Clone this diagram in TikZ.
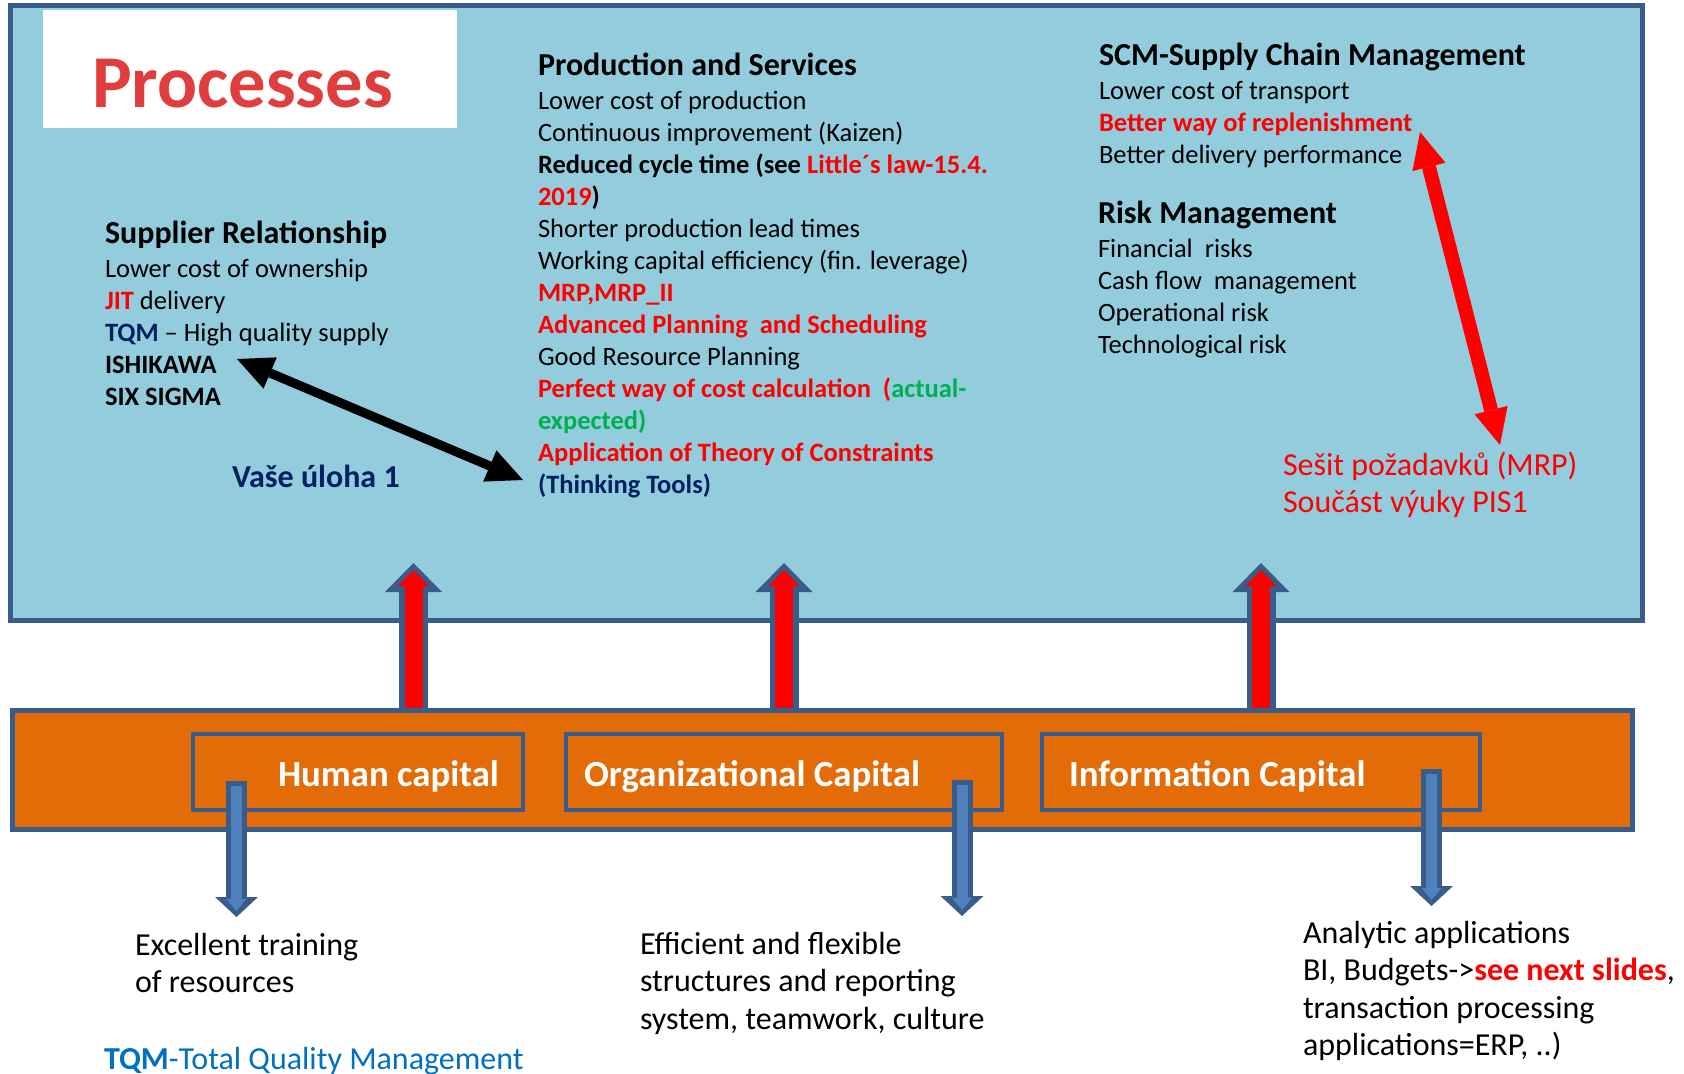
\documentclass[tikz,border=0pt]{standalone}
\usepackage{fontspec}
\setmainfont{Carlito}
\usetikzlibrary{arrows.meta}

\definecolor{procblue}{RGB}{147,205,221}
\definecolor{edgeblue}{RGB}{56,93,138}
\definecolor{resorange}{RGB}{227,108,9}
\definecolor{arrowblue}{RGB}{79,129,189}
\definecolor{navy}{RGB}{0,32,96}
\definecolor{tqmblue}{RGB}{0,112,192}
\definecolor{okgreen}{RGB}{0,176,80}
\definecolor{procred}{RGB}{224,62,62}

\newcommand{\blocktitle}[1]{{\fontsize{16}{16}\selectfont\bfseries #1}}

\begin{document}
\begin{tikzpicture}[x=0.5pt,y=-0.5pt]
\tikzset{
  every node/.style={inner sep=0pt, outer sep=0pt},
  bigbox/.style={draw=edgeblue, line width=2.5pt},
  capbox/.style={draw=edgeblue, line width=2pt, minimum height=38pt},
  captext/.style={font=\fontsize{18.4}{20}\selectfont\bfseries, text=white, anchor=base west},
  body/.style={font=\fontsize{13.25}{16}\selectfont, align=left, anchor=north west},
  lower/.style={font=\fontsize{16}{18.75}\selectfont, align=left, anchor=north west},
  upout/.style={draw=edgeblue, line width=14.5pt, -{Triangle[length=14.5pt,width=28.5pt,line width=0pt]}},
  upin/.style={draw=red, line width=9pt, shorten >=3.5pt, shorten <=1.5pt, -{Triangle[length=8pt,width=15.5pt,line width=0pt]}},
  downout/.style={draw=edgeblue, line width=10.5pt, -{Triangle[length=10pt,width=21.5pt,line width=0pt]}},
  downin/.style={draw=arrowblue, line width=5.5pt, shorten >=3pt, shorten <=2.5pt, -{Triangle[length=6pt,width=10pt,line width=0pt]}},
  linkarrow/.style={line width=#1, arrows={Triangle[length=18pt,width=17pt,line width=0pt]-Triangle[length=18pt,width=17pt,line width=0pt]}}
}
\useasboundingbox (0,0) rectangle (1684,1074);
\fill[white] (0,0) rectangle (1684,1074);

% boxes
\node[bigbox, fill=procblue, minimum width=816pt, minimum height=307.5pt] (proc) at (826.5,313) {};
\node[fill=white, minimum width=207pt, minimum height=59pt] (title) at (250,69) {};
\node[font=\fontsize{37.3}{40}\selectfont\bfseries, text=procred, anchor=base west] (proctext) at (92,108) {Processes};
\node[bigbox, fill=resorange, minimum width=810.25pt, minimum height=59.5pt] (res) at (822.25,770) {};
\node[capbox, minimum width=165pt] (hum) at (358,771.5) {};
\node[capbox, minimum width=218pt] (org) at (784,771.5) {};
\node[capbox, minimum width=219pt] (inf) at (1261,771.5) {};
\node[captext] (humtext) at (278,786) {Human capital};
\node[captext] (orgtext) at (584,786) {Organizational Capital};
\node[captext] (inftext) at (1069,786) {Information Capital};

% processes texts
\node[body] (supp) at (105,221) {\blocktitle{Supplier Relationship}\\[1pt]
Lower cost of ownership\\
{\color{red}\bfseries JIT} delivery\\
{\color{navy}\bfseries TQM} -- High quality supply\\
\textbf{ISHIKAWA}\\
\textbf{SIX SIGMA}};
\node[body] (prod) at (538,53) {\blocktitle{Production and Services}\\[1pt]
Lower cost of production\\
Continuous improvement (Kaizen)\\
\textbf{Reduced cycle time (see {\color{red}Little´s law-15.4.}}\\
\textbf{{\color{red}2019})}\\
Shorter production lead times\\
Working capital efficiency (fin. leverage)\\
{\color{red}\bfseries MRP,MRP\_II}\\
{\color{red}\bfseries Advanced Planning\ \ and Scheduling}\\
Good Resource Planning\\
{\color{red}\bfseries Perfect way of cost calculation\ \ (}{\color{okgreen}\bfseries actual-}\\
{\color{okgreen}\bfseries expected)}\\
{\color{red}\bfseries Application of Theory of Constraints}\\
{\color{navy}\bfseries (Thinking Tools)}};
\node[body] (scm) at (1099,43) {\blocktitle{SCM-Supply Chain Management}\\[1pt]
Lower cost of transport\\
{\color{red}\bfseries Better way of replenishment}\\
Better delivery performance};
\node[body] (risk) at (1098,201) {\blocktitle{Risk Management}\\[1pt]
Financial\ \ risks\\
Cash flow\ \ management\\
Operational risk\\
Technological risk};
\node[lower, text=red] (mrpbook) at (1283,452) {Sešit požadavků (MRP)\\Součást výuky PIS1};
\node[font=\fontsize{16}{16}\selectfont\bfseries, text=navy, anchor=base west] (task) at (232,487.5) {Vaše úloha 1};

% lower texts
\node[lower] (train) at (135,933) {Excellent training\\of resources};
\node[lower] (struct) at (640,932) {Efficient and flexible\\structures and reporting\\system, teamwork, culture};
\node[lower] (apps) at (1303,921) {Analytic applications\\BI, Budgets->{\color{red}\bfseries see next slides},\\transaction processing\\applications=ERP, ..)};
\node[font=\fontsize{16}{16}\selectfont, text=tqmblue, anchor=base west] (tqm) at (104,1069) {\textbf{TQM}-Total Quality Management};

% arrow ends
\coordinate (u1) at (413.5,563);
\coordinate (u2) at (784,563);
\coordinate (u3) at (1261,563);
\coordinate (d1a) at (236.5,781);
\coordinate (d1b) at (236.5,917);
\coordinate (d2a) at (962,780);
\coordinate (d2b) at (962,916);
\coordinate (d3a) at (1431.5,769);
\coordinate (d3b) at (1431.5,906);
\coordinate (ishi) at (237,359);
\coordinate (toc) at (523,480);
\coordinate (repl) at (1420,132);
\coordinate (mrp) at (1500,445);

% up arrows
\draw[upout] (res.north -| u1) -- (u1);
\draw[upin] (res.north -| u1) -- (u1);
\draw[upout] (res.north -| u2) -- (u2);
\draw[upin] (res.north -| u2) -- (u2);
\draw[upout] (res.north -| u3) -- (u3);
\draw[upin] (res.north -| u3) -- (u3);

% down arrows
\draw[downout] (d1a) -- (d1b);
\draw[downin] (d1a) -- (d1b);
\draw[downout] (d2a) -- (d2b);
\draw[downin] (d2a) -- (d2b);
\draw[downout] (d3a) -- (d3b);
\draw[downin] (d3a) -- (d3b);

% links
\draw[linkarrow=4.6pt, black] (ishi) -- (toc);
\draw[linkarrow=7pt, red] (repl) -- (mrp);
\end{tikzpicture}
\end{document}
